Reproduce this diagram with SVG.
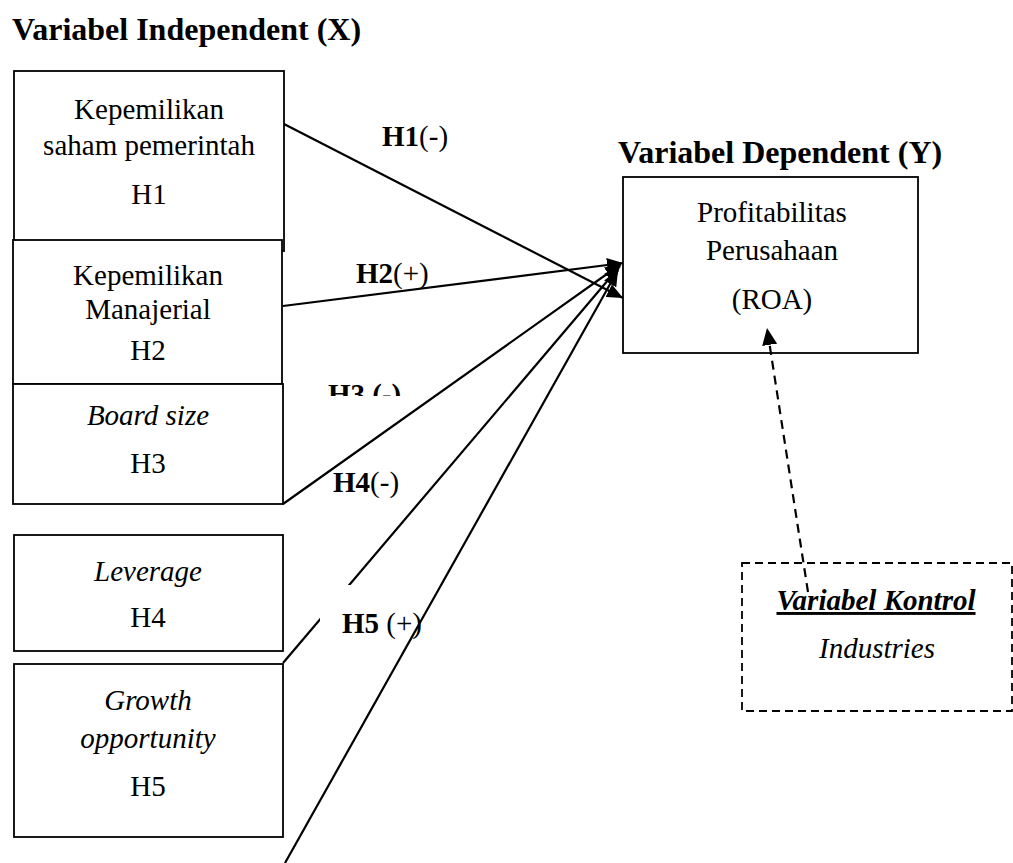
<svg xmlns="http://www.w3.org/2000/svg" width="1013" height="863" viewBox="0 0 1013 863">
<defs>
<style>
.box{fill:#fff;stroke:#000;stroke-width:1.8}
.t{font-family:"Liberation Serif","Times New Roman",serif;font-size:29px;fill:#000;text-anchor:middle}
.it{font-style:italic}
.title{font-family:"Liberation Serif","Times New Roman",serif;font-size:32px;font-weight:bold;fill:#000}
.lbl{font-family:"Liberation Serif","Times New Roman",serif;font-size:29px;fill:#000}
.b{font-weight:bold}
.c{stroke:#000;stroke-width:2.2;fill:none}
</style>
<marker id="ah" viewBox="0 0 16 14" markerWidth="16" markerHeight="14" refX="16" refY="7" orient="auto" markerUnits="userSpaceOnUse">
<path d="M0,0 L16,7 L0,14 Z" fill="#000"/>
</marker>
<marker id="ahd" viewBox="0 0 17 15" markerWidth="17" markerHeight="15" refX="17" refY="7.5" orient="auto" markerUnits="userSpaceOnUse">
<path d="M0,0 L17,7.5 L0,15 Z" fill="#000"/>
</marker>
<clipPath id="h3clip"><rect x="320" y="370" width="110" height="26"/></clipPath>
</defs>
<rect width="1013" height="863" fill="#fff"/>

<text class="title" x="12" y="40">Variabel Independent (X)</text>
<text class="title" x="618" y="163">Variabel Dependent (Y)</text>

<g id="node-x1">
<rect class="box" x="14" y="71" width="270" height="180"/>
<text class="t" x="149" y="119">Kepemilikan</text>
<text class="t" x="149" y="155">saham pemerintah</text>
<text class="t" x="149" y="204">H1</text>
</g>
<g id="node-x2">
<rect class="box" x="13" y="240" width="269" height="144"/>
<text class="t" x="148" y="285">Kepemilikan</text>
<text class="t" x="148" y="319">Manajerial</text>
<text class="t" x="148" y="360">H2</text>
</g>
<g id="node-x3">
<rect class="box" x="13" y="384" width="270" height="120"/>
<text class="t it" x="148" y="425">Board size</text>
<text class="t" x="148" y="473">H3</text>
</g>
<g id="node-x4">
<rect class="box" x="14" y="535" width="269" height="116"/>
<text class="t it" x="148" y="581">Leverage</text>
<text class="t" x="148" y="627">H4</text>
</g>
<g id="node-x5">
<rect class="box" x="14" y="664" width="269" height="173"/>
<text class="t it" x="148" y="710">Growth</text>
<text class="t it" x="148" y="748">opportunity</text>
<text class="t" x="148" y="796">H5</text>
</g>
<g id="node-y">
<rect class="box" x="623" y="177" width="295" height="176"/>
<text class="t" x="772" y="222">Profitabilitas</text>
<text class="t" x="772" y="260">Perusahaan</text>
<text class="t" x="772" y="309">(ROA)</text>
</g>
<g id="node-control">
<rect x="742" y="563" width="270" height="148" fill="#fff" stroke="#000" stroke-width="1.8" stroke-dasharray="8,5"/>
<text class="t it b" x="876" y="610" font-size="32" text-decoration="underline">Variabel Kontrol</text>
<text class="t it" x="877" y="658">Industries</text>
</g>

<g id="connectors">
<line class="c" x1="284" y1="124" x2="623" y2="298" marker-end="url(#ah)"/>
<line class="c" x1="283" y1="306" x2="623" y2="263" marker-end="url(#ah)"/>
<line class="c" x1="283" y1="504" x2="621" y2="264" marker-end="url(#ah)"/>
<line class="c" x1="283" y1="663" x2="620" y2="266" marker-end="url(#ah)"/>
<rect x="320" y="585" width="100" height="62" fill="#fff"/>
<line class="c" x1="285" y1="863" x2="618" y2="270" marker-end="url(#ah)"/>
<line class="c" x1="808" y1="592" x2="767" y2="328" stroke-dasharray="9,6" marker-end="url(#ahd)"/>
</g>

<g id="labels">
<text class="lbl" x="382" y="146"><tspan class="b">H1</tspan>(-)</text>
<text class="lbl" x="356" y="283"><tspan class="b">H2</tspan>(+)</text>
<text class="lbl b" x="328" y="404" clip-path="url(#h3clip)">H3 (-)</text>
<text class="lbl" x="333" y="492"><tspan class="b">H4</tspan>(-)</text>
<text class="lbl" x="342" y="633"><tspan class="b">H5</tspan> (+)</text>
</g>
</svg>
